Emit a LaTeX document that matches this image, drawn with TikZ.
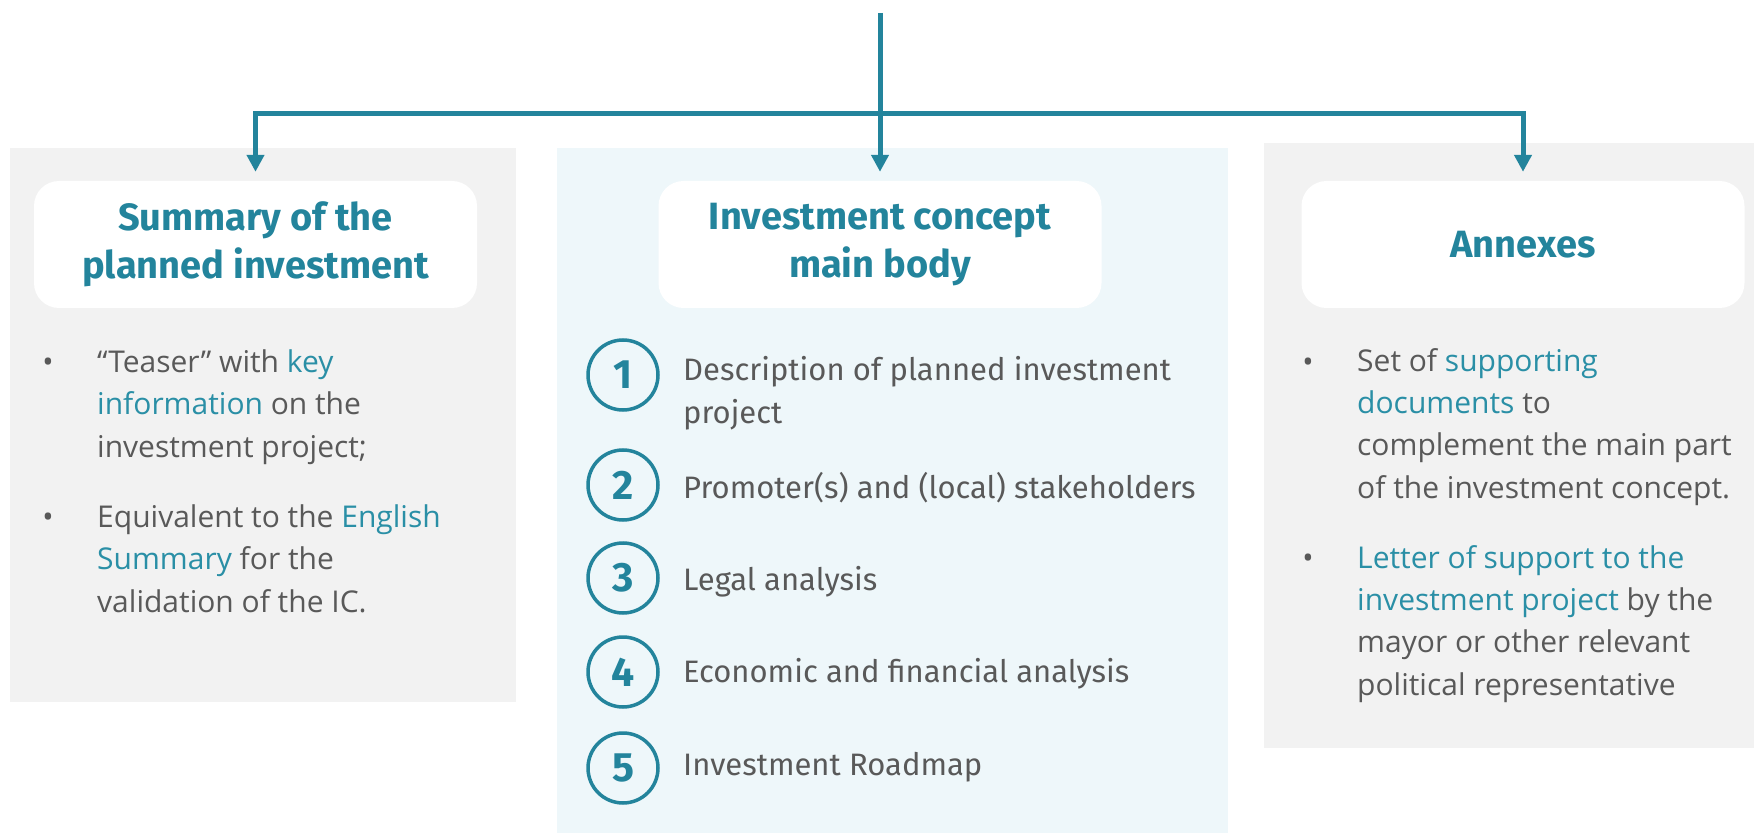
\documentclass[tikz,border=0pt]{standalone}
\usepackage{fontspec}
\usetikzlibrary{arrows.meta}
\newfontfamily\ttlfont{Fira Sans}
\newfontfamily\itmfont{Fira Sans}
\newfontfamily\bdyfont{Open Sans}
\definecolor{accent}{HTML}{23849C}
\definecolor{hlcol}{HTML}{2A8FA6}
\definecolor{bodygray}{HTML}{595959}
\definecolor{panelgray}{HTML}{F2F2F2}
\definecolor{panelblue}{HTML}{EEF7FA}
\newcommand{\hlw}[1]{\textcolor{hlcol}{#1}}
\tikzset{
  conn/.style={draw=accent, line width=5pt, -{Triangle[width=17pt,length=17pt]}},
  titlebox/.style={fill=white, rounded corners=25pt, minimum width=443pt, minimum height=127pt, inner sep=0pt, align=center, text=accent, font=\ttlfont\bfseries\fontsize{38}{48}\selectfont},
  numcirc/.style={circle, draw=accent, line width=3.5pt, minimum size=70pt, inner sep=0pt, text=accent, font=\itmfont\bfseries\fontsize{41}{41}\selectfont},
  itemtext/.style={anchor=base west, inner sep=0pt, align=left, text=bodygray, font=\itmfont\fontsize{31}{43}\selectfont},
  bodytext/.style={anchor=base west, inner sep=0pt, align=left, text=bodygray, font=\bdyfont\fontsize{30}{42.3}\selectfont},
  bulletmark/.style={anchor=base, inner sep=0pt, text=bodygray, font=\bdyfont\fontsize{30}{30}\selectfont}
}
\begin{document}
\begin{tikzpicture}[x=1pt,y=-1pt]
\useasboundingbox (0,0) rectangle (1754,834);
% panels
\fill[panelgray] (10,148) rectangle (516,702);
\fill[panelblue] (557,148) rectangle (1228,833);
\fill[panelgray] (1264,143) rectangle (1754,748);
% title boxes
\node[titlebox] (lbox) at (255.5,244.5) {Summary of the\\planned investment};
\node[titlebox] (mbox) at (880,244.5) {Investment concept\\main body};
\node[titlebox] (rbox) at (1523,244.5) {Annexes};
% connectors
\coordinate (top) at (880,13);
\coordinate (jn) at (880,114);
\draw[conn, shorten >=9pt] (top) -- (mbox.north);
\draw[conn, shorten >=9pt] (jn) -| (lbox.north);
\draw[conn, shorten >=9pt] (jn) -| (rbox.north);
% left bullets (node base = last line baseline)
\node[bulletmark] (lb1) at (48,372) {•};
\node[bodytext] (lt1) at (97,457) {“Teaser” with \hlw{key}\\\hlw{information} on the\\investment project;};
\node[bulletmark] (lb2) at (48,527) {•};
\node[bodytext] (lt2) at (97,612) {Equivalent to the \hlw{English}\\\hlw{Summary} for the\\validation of the IC.};
% middle items
\node[numcirc] (n1) at (623,375) {1};
\node[itemtext] (i1) at (683,423) {Description of planned investment\\project};
\node[numcirc] (n2) at (623,485) {2};
\node[itemtext] (i2) at (683,498) {Promoter(s) and (local) stakeholders};
\node[numcirc] (n3) at (623,578) {3};
\node[itemtext] (i3) at (683,590) {Legal analysis};
\node[numcirc] (n4) at (623,672) {4};
\node[itemtext] (i4) at (683,682) {Economic and financial analysis};
\node[numcirc] (n5) at (623,768) {5};
\node[itemtext] (i5) at (683,775) {Investment Roadmap};
% right bullets
\node[bulletmark] (rb1) at (1308,372) {•};
\node[bodytext] (rt1) at (1357,498) {Set of \hlw{supporting}\\\hlw{documents} to\\complement the main part\\of the investment concept.};
\node[bulletmark] (rb2) at (1308,568) {•};
\node[bodytext] (rt2) at (1357,695) {\hlw{Letter of support to the}\\\hlw{investment project} by the\\mayor or other relevant\\political representative};
\end{tikzpicture}
\end{document}
